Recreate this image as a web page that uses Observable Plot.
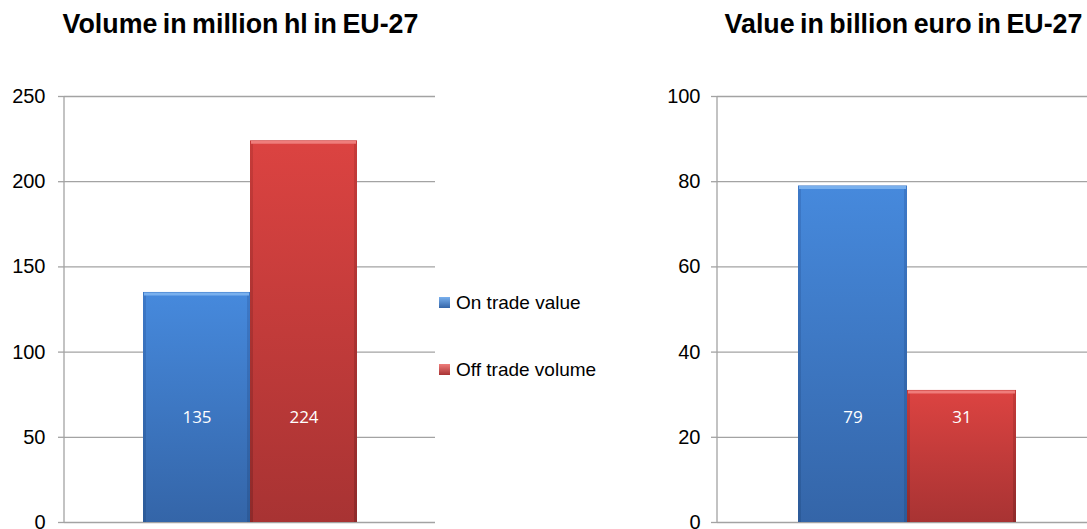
<!DOCTYPE html>
<html><head><meta charset="utf-8">
<script src="https://cdn.jsdelivr.net/npm/d3@7"></script>
<script src="https://cdn.jsdelivr.net/npm/@observablehq/plot@0.6"></script>
<style>
body{margin:0;background:#fff;}
#wrap{position:relative;width:1087px;height:529px;overflow:hidden;font-family:"Liberation Sans",Arial,sans-serif;background:#fff;}
.chart{position:absolute;top:0;}
.chart svg{max-width:none;background:transparent;display:block;}
.title{position:absolute;top:11px;font-weight:bold;font-size:26.8px;line-height:26px;word-spacing:-2px;white-space:nowrap;transform:translateX(-50%);color:#000;z-index:2;}
.legsw{position:absolute;width:11px;height:11px;z-index:2;}
.legtx{position:absolute;font-size:19px;line-height:19px;white-space:nowrap;color:#000;z-index:2;}
</style></head>
<body><div id="wrap"></div>
<script>
const series = ["On trade value", "Off trade volume"];
const volumeValues = [135, 224];
const valueValues = [79, 31];
const volumeTicks = [0, 50, 100, 150, 200, 250];
const valueTicks = [0, 20, 40, 60, 80, 100];
const titles = ["Volume in million hl in EU-27", "Value in billion euro in EU-27"];

const palette = [
  {edgeTop:"#3d79c8", edgeBot:"#2c5a98", top:"#4689dc", bot:"#3465a8", hi:"#79b0ee"},
  {edgeTop:"#c63b39", edgeBot:"#8e2a2a", top:"#db4341", bot:"#a83333", hi:"#ef7d7b"}
];
const gridColor = "#a3a3a3";
const wrap = document.getElementById("wrap");

function makeChart({values, ticks, left, width, marginLeft, marginRight, tickPadding, prefix}) {
  const data = series.map((s, i) => ({series: s, value: values[i], i}));
  const marks = [
    Plot.ruleY(ticks, {stroke: gridColor, strokeWidth: 1.3}),
    Plot.axisY({ticks, tickSize: 6, tickPadding, stroke: gridColor, strokeWidth: 1.3, fill: "#000", fontSize: 20, label: null, tickFormat: d => String(d)}),
    (index, scales, channels, dims) => {
      const x = dims.marginLeft;
      return d3.create("svg:line")
        .attr("x1", x).attr("x2", x)
        .attr("y1", scales.y(ticks[ticks.length - 1])).attr("y2", scales.y(0))
        .attr("stroke", gridColor).attr("stroke-width", 1.3).node();
    }
  ];
  series.forEach((s, i) => {
    const d = data.filter(r => r.i === i);
    marks.push(Plot.barY(d, {x: "series", y: "value", fill: `url(#${prefix}edge${i})`, style: "filter: drop-shadow(1.5px 1.5px 1.5px rgba(0,0,0,0.35))"}));
    marks.push(Plot.barY(d, {x: "series", y: "value", insetLeft: 3, insetRight: 3, insetTop: 3, fill: `url(#${prefix}main${i})`}));
    marks.push(Plot.tickY(d, {x: "series", y: "value", stroke: palette[i].hi, strokeWidth: 3, dy: 1.5, insetLeft: 1, insetRight: 1}));
  });
  marks.push(Plot.text(data, {x: "series", text: d => String(d.value), frameAnchor: "bottom", dy: -100, fill: "white", fontSize: 17, fontFamily: "Open Sans, sans-serif"}));

  const svg = Plot.plot({
    width, height: 529,
    marginLeft, marginRight, marginTop: 96, marginBottom: 7,
    style: {fontFamily: "Liberation Sans, Arial, sans-serif", fontSize: "20px", background: "transparent", overflow: "visible"},
    x: {domain: series, paddingInner: 0, paddingOuter: 0.73, axis: null},
    y: {domain: [ticks[0], ticks[ticks.length - 1]], axis: null},
    marks
  });
  const defs = d3.select(svg).insert("defs", ":first-child");
  palette.forEach((p, i) => {
    const g1 = defs.append("linearGradient").attr("id", `${prefix}edge${i}`).attr("x1", 0).attr("y1", 0).attr("x2", 0).attr("y2", 1);
    g1.append("stop").attr("offset", "0%").attr("stop-color", p.edgeTop);
    g1.append("stop").attr("offset", "100%").attr("stop-color", p.edgeBot);
    const g2 = defs.append("linearGradient").attr("id", `${prefix}main${i}`).attr("x1", 0).attr("y1", 0).attr("x2", 0).attr("y2", 1);
    g2.append("stop").attr("offset", "0%").attr("stop-color", p.top);
    g2.append("stop").attr("offset", "100%").attr("stop-color", p.bot);
  });
  const div = document.createElement("div");
  div.className = "chart";
  div.style.left = left + "px";
  div.appendChild(svg);
  wrap.appendChild(div);
}

makeChart({values: volumeValues, ticks: volumeTicks, left: 0, width: 440, marginLeft: 64, marginRight: 5, tickPadding: 13, prefix: "a"});
makeChart({values: valueValues, ticks: valueTicks, left: 640, width: 460, marginLeft: 77, marginRight: 4, tickPadding: 11, prefix: "b"});

// titles
[[titles[0], 240.5], [titles[1], 903.5]].forEach(([t, cx]) => {
  const el = document.createElement("div");
  el.className = "title";
  el.style.left = cx + "px";
  el.textContent = t;
  wrap.appendChild(el);
});

// legend
series.forEach((s, i) => {
  const sw = document.createElement("div");
  sw.className = "legsw";
  sw.style.left = "439px";
  sw.style.top = (297 + i * 67) + "px";
  sw.style.background = `linear-gradient(${palette[i].hi}, ${palette[i].bot})`;
  wrap.appendChild(sw);
  const tx = document.createElement("div");
  tx.className = "legtx";
  tx.style.left = "456px";
  tx.style.top = (293 + i * 67) + "px";
  tx.textContent = s;
  wrap.appendChild(tx);
});
</script>
</body></html>
